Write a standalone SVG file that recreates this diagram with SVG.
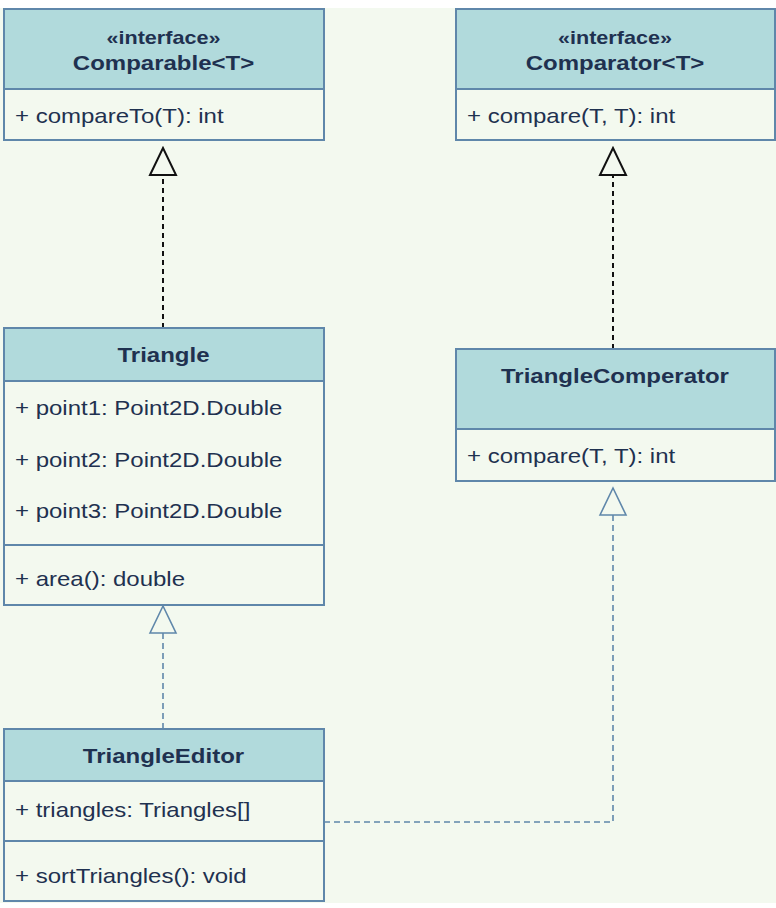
<svg xmlns="http://www.w3.org/2000/svg" width="776" height="908" viewBox="0 0 776 908">
<defs>
<style>
.hd{fill:#b1dadc;stroke:#5f87aa;stroke-width:2}
.bd{fill:#f3f9ef;stroke:#5f87aa;stroke-width:2}
.dv{stroke:#5f87aa;stroke-width:2;fill:none}
text{font-family:"Liberation Sans",Arial,sans-serif;font-size:20px;fill:#1f3150}
.t{font-weight:bold;text-anchor:middle}
.blk{fill:none;stroke:#111;stroke-width:2;stroke-dasharray:5 4}
.blu{fill:none;stroke:#5f87aa;stroke-width:1.6;stroke-dasharray:6 4}
</style>
<marker id="hk" markerUnits="userSpaceOnUse" markerWidth="32" markerHeight="32" viewBox="0 0 32 32" refX="30" refY="16" orient="auto">
<path d="M3,3 L30,16 L3,29 Z" fill="#f3f9ef" stroke="#111" stroke-width="2"/>
</marker>
<marker id="hb" markerUnits="userSpaceOnUse" markerWidth="32" markerHeight="32" viewBox="0 0 32 32" refX="30" refY="16" orient="auto">
<path d="M3,3 L30,16 L3,29 Z" fill="#f3f9ef" stroke="#5f87aa" stroke-width="1.6"/>
</marker>
</defs>
<rect x="0" y="0" width="776" height="908" fill="#ffffff"/>
<rect x="0" y="8" width="776" height="895" fill="#f3f9ef"/>

<g id="connectors">
<path class="blk" d="M163,328 V148" marker-end="url(#hk)"/>
<path class="blk" d="M613,349 V148" marker-end="url(#hk)"/>
<path class="blu" d="M163,729 V606" marker-end="url(#hb)"/>
<path class="blu" d="M324,822 H613 V488" marker-end="url(#hb)"/>
</g>

<g id="comparable">
<rect class="bd" x="4" y="9" width="320" height="131"/>
<rect class="hd" x="4" y="9" width="320" height="80"/>
<g transform="scale(1.2 1)">
<text class="t" x="136.25" y="44" style="font-size:18px">«interface»</text>
<text class="t" x="136.25" y="70">Comparable&lt;T&gt;</text>
<text x="12.5" y="123">+ compareTo(T): int</text>
</g>
</g>

<g id="comparator">
<rect class="bd" x="456" y="9" width="319" height="131"/>
<rect class="hd" x="456" y="9" width="319" height="80"/>
<g transform="scale(1.2 1)">
<text class="t" x="512.5" y="44" style="font-size:18px">«interface»</text>
<text class="t" x="512.5" y="70">Comparator&lt;T&gt;</text>
<text x="389.2" y="123">+ compare(T, T): int</text>
</g>
</g>

<g id="triangle">
<rect class="bd" x="4" y="328" width="320" height="277"/>
<rect class="hd" x="4" y="328" width="320" height="53"/>
<line class="dv" x1="4" y1="545" x2="324" y2="545"/>
<g transform="scale(1.2 1)">
<text class="t" x="136.25" y="362">Triangle</text>
<text x="12.5" y="415">+ point1: Point2D.Double</text>
<text x="12.5" y="467">+ point2: Point2D.Double</text>
<text x="12.5" y="518">+ point3: Point2D.Double</text>
<text x="12.5" y="586">+ area(): double</text>
</g>
</g>

<g id="trianglecomperator">
<rect class="bd" x="456" y="349" width="319" height="132"/>
<rect class="hd" x="456" y="349" width="319" height="80"/>
<g transform="scale(1.2 1)">
<text class="t" x="512.5" y="383">TriangleComperator</text>
<text x="389.2" y="463">+ compare(T, T): int</text>
</g>
</g>

<g id="triangleeditor">
<rect class="bd" x="4" y="729" width="320" height="172"/>
<rect class="hd" x="4" y="729" width="320" height="52"/>
<line class="dv" x1="4" y1="841" x2="324" y2="841"/>
<g transform="scale(1.2 1)">
<text class="t" x="136.25" y="763">TriangleEditor</text>
<text x="12.5" y="817">+ triangles: Triangles[]</text>
<text x="12.5" y="883">+ sortTriangles(): void</text>
</g>
</g>
</svg>
